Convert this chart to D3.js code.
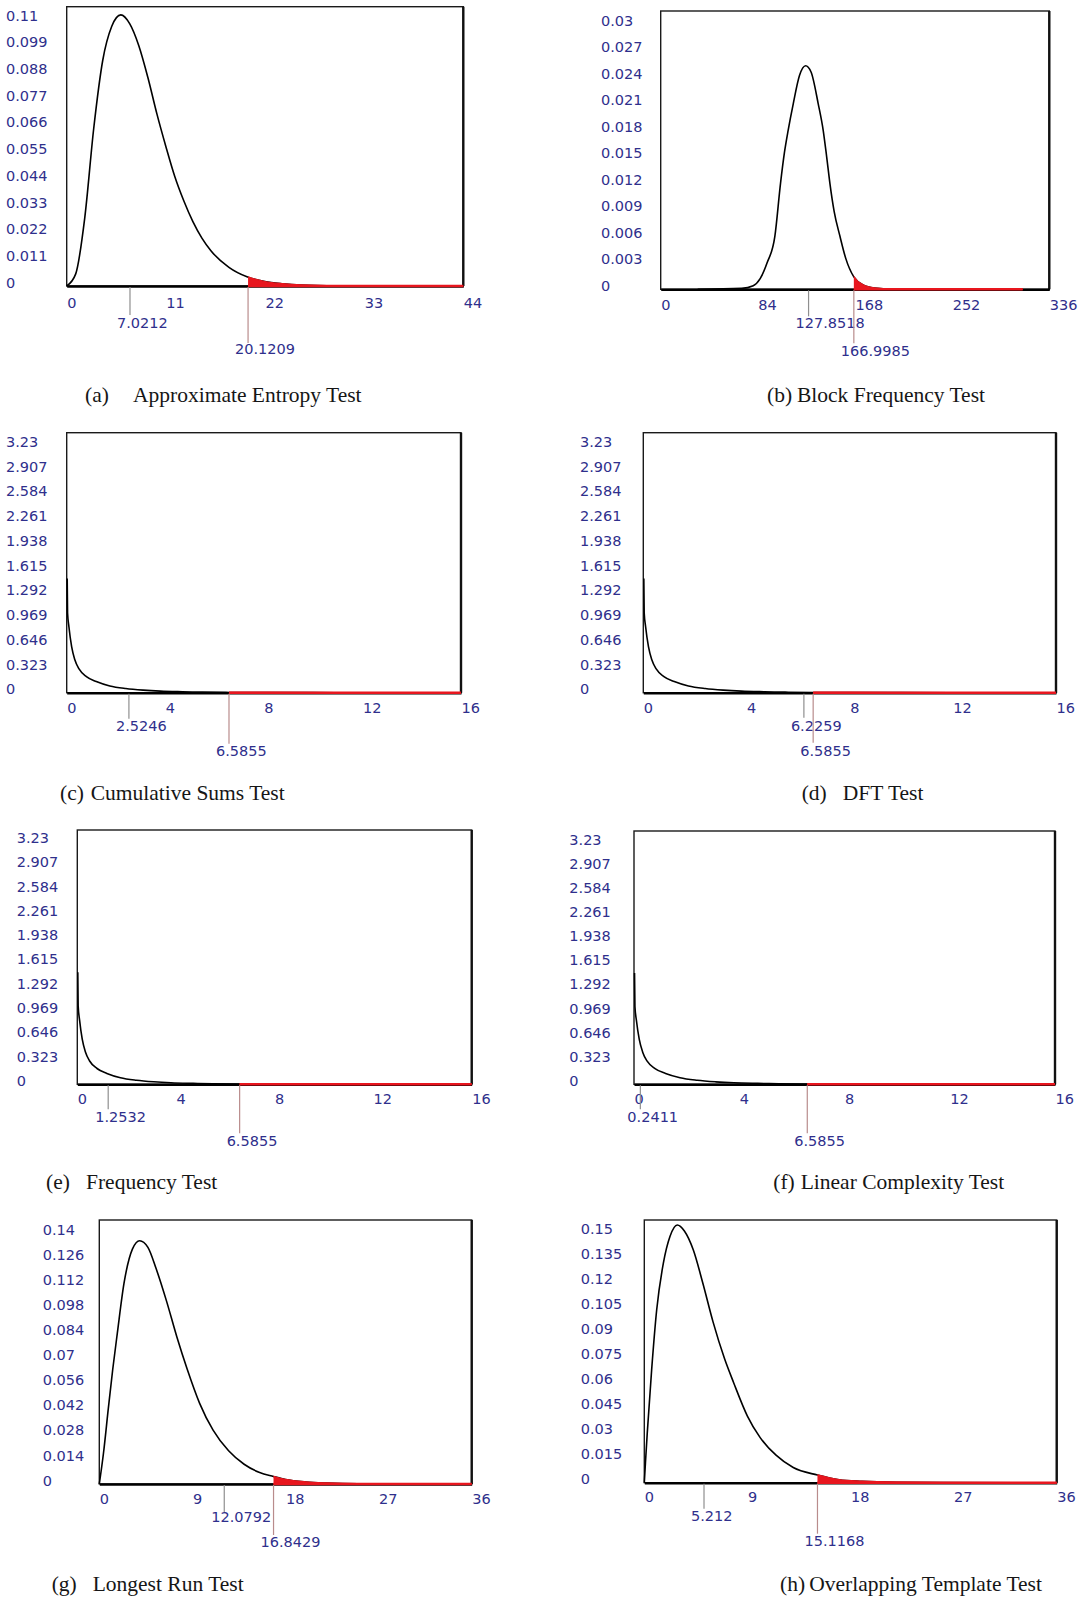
<!DOCTYPE html>
<html>
<head>
<meta charset="utf-8">
<script src="https://cdn.jsdelivr.net/npm/d3@7"></script>
<style>
  body { margin: 0; background: #fff; }
  svg { display: block; }
  .tick text, .mark-label { font-family: "DejaVu Sans", sans-serif; font-size: 14.5px; fill: #2f2f8c; }
  .caption { font-family: "Liberation Serif", "Times New Roman", serif; font-size: 21.5px; fill: #161616; }
</style>
</head>
<body>
<svg id="fig" width="1091" height="1597"></svg>
<script>
// densities, (x, density) per test
const apenX = [0, 1, 2, 3, 4, 5, 6, 7, 8, 9, 10, 11, 12, 13, 14, 15, 16, 18, 20, 22, 24, 26, 30, 35, 44];
const apenY = [0, 0.005, 0.028, 0.065, 0.093, 0.107, 0.1117, 0.108, 0.099, 0.086, 0.071, 0.0575, 0.045, 0.035,
  0.0265, 0.0197, 0.0145, 0.0077, 0.0038, 0.0018, 0.0009, 0.0004, 0.00008, 0.00001, 0];

const blockX = [32, 70, 80, 86, 92, 98.7, 103.6, 107, 110.2, 114.6, 120, 125.3, 130, 136.2, 140.5, 143.5,
  146.3, 150, 155, 160, 167, 175, 185, 200, 313];
const blockY = [0, 0.0001, 0.0004, 0.0012, 0.003, 0.006, 0.012, 0.0155, 0.018, 0.021, 0.0242, 0.0253, 0.0246,
  0.021, 0.018, 0.015, 0.012, 0.0088, 0.006, 0.0035, 0.0014, 0.0005, 0.00015, 0.00002, 0];

// cusum, dft, frequency and linear complexity all share this one
const tailX = [0.02, 0.035, 0.09, 0.2, 0.33, 0.5, 0.8, 1.2, 1.75, 2.4, 3.1, 3.8, 4.7, 5.5, 6.6, 8, 10, 12, 16];
const tailY = [1.49, 1.04, 0.86, 0.6, 0.43, 0.31, 0.21, 0.145, 0.088, 0.054, 0.033, 0.02, 0.012, 0.007,
  0.0035, 0.0012, 0.0004, 0.0001, 0];

const runX = [0, 0.4, 0.87, 1.3, 1.74, 2.39, 3.2, 3.9, 4.7, 5.5, 6.5, 7.5, 8.5, 9.7, 11, 12.5, 14, 15.5,
  16.84, 18, 20, 22, 25, 30, 36];
const runY = [0, 0.017, 0.042, 0.064, 0.084, 0.112, 0.131, 0.1357, 0.132, 0.12, 0.102, 0.082, 0.064, 0.045,
  0.03, 0.0185, 0.011, 0.0064, 0.0042, 0.0025, 0.0011, 0.0005, 0.0001, 0.00001, 0];

const templX = [0, 0.1, 0.26, 0.64, 1.08, 1.66, 2.24, 2.88, 3.5, 4.28, 5.1, 6.0, 7.0, 7.8, 9, 10.1, 11.5,
  13, 15.12, 17, 19, 22, 26, 36];
const templY = [0, 0.012, 0.03, 0.0676, 0.1036, 0.1316, 0.1477, 0.1546, 0.151, 0.1396, 0.12, 0.0965, 0.0745,
  0.06, 0.04, 0.0272, 0.0165, 0.0091, 0.0046, 0.0018, 0.0008, 0.0002, 0.00003, 0];

// tick labels
const apenTicks = ['0', '0.011', '0.022', '0.033', '0.044', '0.055', '0.066', '0.077', '0.088', '0.099', '0.11'];
const blockTicks = ['0', '0.003', '0.006', '0.009', '0.012', '0.015', '0.018', '0.021', '0.024', '0.027', '0.03'];
const tailTicks = ['0', '0.323', '0.646', '0.969', '1.292', '1.615', '1.938', '2.261', '2.584', '2.907', '3.23'];
const runTicks = ['0', '0.014', '0.028', '0.042', '0.056', '0.07', '0.084', '0.098', '0.112', '0.126', '0.14'];
const templTicks = ['0', '0.015', '0.03', '0.045', '0.06', '0.075', '0.09', '0.105', '0.12', '0.135', '0.15'];

const xTicks44 = [0, 11, 22, 33, 44];
const xTicks336 = [0, 84, 168, 252, 336];
const xTicks16 = [0, 4, 8, 12, 16];
const xTicks36 = [0, 9, 18, 27, 36];

// test statistic and critical value of each panel
const statLabels = ['7.0212', '127.8518', '2.5246', '6.2259', '1.2532', '0.2411', '12.0792', '5.212'];
const critLabels = ['20.1209', '166.9985', '6.5855', '6.5855', '6.5855', '6.5855', '16.8429', '15.1168'];

const capLetters = ['(a)', '(b)', '(c)', '(d)', '(e)', '(f)', '(g)', '(h)'];
const capTitles = ['Approximate Entropy Test', 'Block Frequency Test', 'Cumulative Sums Test', 'DFT Test',
  'Frequency Test', 'Linear Complexity Test', 'Longest Run Test', 'Overlapping Template Test'];

const RED = '#e8161e';

// layout in page pixels
const panels = [
  {xs: apenX, ys: apenY, yT: apenTicks, xT: xTicks44, l: 66.7, r: 463.3, t: 6.7, b: 286, yTop: 19, labX: 6, xPad: 11.7,
    mk: [29, 42, 57, 68], cap: [85, 133, 402]},
  {xs: blockX, ys: blockY, yT: blockTicks, xT: xTicks336, l: 660.7, r: 1049.3, t: 11, b: 289.3, yTop: 24.3, labX: 601, xPad: 10.7,
    mk: [27, 39, 54, 67], cap: [767, 797, 402]},
  {xs: tailX, ys: tailY, yT: tailTicks, xT: xTicks16, l: 66.7, r: 461, t: 432.7, b: 692.7, yTop: 445.1, labX: 6, xPad: 9.6,
    mk: [26, 38, 51, 63], cap: [60, 90.7, 800]},
  {xs: tailX, ys: tailY, yT: tailTicks, xT: xTicks16, l: 643.3, r: 1056, t: 432.7, b: 692.7, yTop: 445.1, labX: 580, xPad: 9.6,
    mk: [25, 38, 50, 63], cap: [801.7, 842.7, 800]},
  {xs: tailX, ys: tailY, yT: tailTicks, xT: xTicks16, l: 77.3, r: 471.7, t: 830, b: 1084.3, yTop: 841.3, labX: 16.7, xPad: 9.5,
    mk: [25, 38, 49, 62], cap: [46, 86, 1189]},
  {xs: tailX, ys: tailY, yT: tailTicks, xT: xTicks16, l: 634, r: 1055, t: 831, b: 1084.3, yTop: 842.9, labX: 569.3, xPad: 9.5,
    mk: [25, 38, 49, 62], cap: [773.3, 800.7, 1189]},
  {xs: runX, ys: runY, yT: runTicks, xT: xTicks36, l: 99.3, r: 471.7, t: 1220, b: 1484, yTop: 1233, labX: 42.7, xPad: 9.3,
    mk: [28, 38, 51, 63], cap: [51.7, 92.7, 1591]},
  {xs: templX, ys: templY, yT: templTicks, xT: xTicks36, l: 644.3, r: 1056.7, t: 1220, b: 1482.7, yTop: 1232.7, labX: 580.7, xPad: 9.5,
    mk: [26, 38, 51, 63], cap: [780, 809.3, 1591]}
];

const svg = d3.select('#fig');

panels.forEach((p, k) => {
  const g = svg.append('g');
  const stat = +statLabels[k];
  const crit = +critLabels[k];
  const pts = p.xs.map((d, i) => [d, p.ys[i]]);

  const x = d3.scaleLinear()
    .domain([0, p.xT[p.xT.length - 1]])
    .range([p.l, p.r]);
  const y = d3.scaleLinear()
    .domain([0, +p.yT[p.yT.length - 1]])
    .range([p.b, p.yTop]);

  // frame
  g.append('rect')
    .attr('x', p.l).attr('y', p.t)
    .attr('width', p.r - p.l).attr('height', p.b - p.t)
    .attr('fill', 'none').attr('stroke', '#1a1a1a').attr('stroke-width', 1.4);
  g.append('line')
    .attr('x1', p.r).attr('x2', p.r).attr('y1', p.t).attr('y2', p.b)
    .attr('stroke', '#111').attr('stroke-width', 2.4);

  const gx = g.append('g')
    .attr('transform', `translate(0,${p.b})`)
    .call(d3.axisBottom(x).tickValues(p.xT).tickSize(0).tickSizeOuter(0).tickPadding(p.xPad));
  gx.select('.domain').attr('stroke', '#000').attr('stroke-width', 2.4);
  gx.selectAll('.tick text').attr('text-anchor', 'start');

  g.append('g')
    .attr('transform', `translate(${p.labX},-3.5)`)
    .call(d3.axisRight(y).tickValues(p.yT.map(Number)).tickFormat((d, i) => p.yT[i])
      .tickSize(0).tickSizeOuter(0).tickPadding(0))
    .call(s => s.select('.domain').remove());

  // density curve
  const line = d3.line()
    .x(d => x(d[0]))
    .y(d => y(d[1]))
    .curve(d3.curveMonotoneX);
  g.append('path')
    .datum(pts)
    .attr('d', line)
    .attr('fill', 'none')
    .attr('stroke', '#000')
    .attr('stroke-width', 1.6);

  // rejection region
  const clipId = 'tail' + k;
  g.append('clipPath').attr('id', clipId)
    .append('rect')
    .attr('x', x(crit)).attr('y', p.t)
    .attr('width', p.r - x(crit) + 4).attr('height', p.b - p.t + 4);
  const area = d3.area()
    .x(d => x(d[0]))
    .y0(y(0))
    .y1(d => y(d[1]))
    .curve(d3.curveMonotoneX);
  g.append('path')
    .datum(pts)
    .attr('d', area)
    .attr('fill', RED)
    .attr('stroke', RED)
    .attr('stroke-width', 1.5)
    .attr('clip-path', `url(#${clipId})`);
  g.append('line')
    .attr('x1', x(crit)).attr('x2', x(p.xs[p.xs.length - 1]))
    .attr('y1', y(0)).attr('y2', y(0))
    .attr('stroke', RED).attr('stroke-width', 2.6);

  // statistic and critical value markers
  const marks = [
    {v: stat, txt: statLabels[k], len: p.mk[0], lab: p.mk[1], col: '#8f8f8f'},
    {v: crit, txt: critLabels[k], len: p.mk[2], lab: p.mk[3], col: '#b98c8c'}
  ];
  marks.forEach(m => {
    g.append('text')
      .attr('class', 'mark-label')
      .attr('x', x(m.v) - 13)
      .attr('y', p.b + m.lab)
      .text(m.txt);
  });
  marks.forEach(m => {
    g.append('line')
      .attr('x1', x(m.v)).attr('x2', x(m.v))
      .attr('y1', p.b + 1).attr('y2', p.b + m.len)
      .attr('stroke', m.col).attr('stroke-width', 1.2);
  });

  // caption
  const cap = g.append('text').attr('class', 'caption').attr('y', p.cap[2]);
  cap.append('tspan').attr('x', p.cap[0]).text(capLetters[k]);
  cap.append('tspan').attr('x', p.cap[1]).text(capTitles[k]);
});
</script>
</body>
</html>
